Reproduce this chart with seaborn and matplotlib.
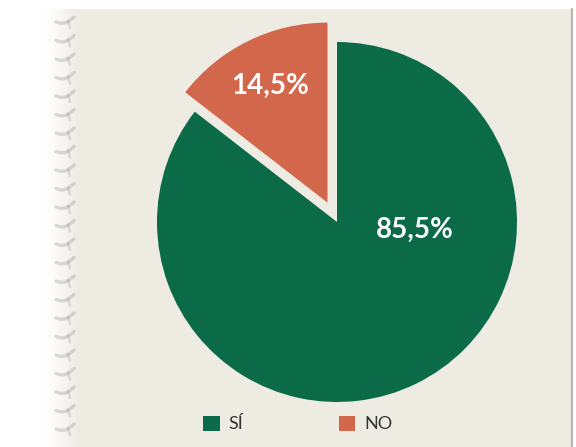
import numpy as np
import matplotlib
matplotlib.use("Agg")
import matplotlib.pyplot as plt
import seaborn as sns

# Survey answers and their shares (%)
labels = ["NO", "SÍ"]
shares = [14.5, 85.5]
legend_order = ["SÍ", "NO"]

sns.set_theme(style="white")
plt.rcParams["font.family"] = ["Lato", "DejaVu Sans"]

colors = {"SÍ": "#0b6a47", "NO": "#d2674c"}
paper = "#eeebe3"

W, H = 576, 447
fig = plt.figure(figsize=(W / 100, H / 100), dpi=100, facecolor="white")

# Paper background with a spiral-bound left edge
bg = fig.add_axes([0, 0, 1, 1], zorder=0)
bg.set_xlim(0, W)
bg.set_ylim(H, 0)
bg.axis("off")
bg.add_patch(plt.Rectangle((78, 9), 571 - 78, H - 9, facecolor=paper, edgecolor="none"))
# soft fade from the white torn edge into the paper
for i, x in enumerate(np.arange(44, 78, 1.0)):
    a = (i + 1) / 34
    bg.add_patch(plt.Rectangle((x, 9), 1.05, H - 9, facecolor=paper,
                               edgecolor="none", alpha=a ** 1.3))
bg.plot([572, 572], [9, H], color="#b9b7b2", lw=1.6)

# spiral binding marks
for y in np.arange(22, H, 18.5):
    t = np.linspace(0, 1, 14)
    bg.plot(56 + 18 * t, y + 3.5 * np.sin(np.pi * t) - 5 * t, color="#8f8d89", lw=2.4,
            alpha=0.3, solid_capstyle="round", zorder=2)
    bg.plot([68, 70], [y - 1, y + 6], color="#9a9894", lw=1.8, alpha=0.28, zorder=2)

# Pie chart: radius 1 maps to 180 px, centred at (337, 222) px from the top-left
ax = fig.add_axes([0, 0, 1, 1], zorder=1)
ax.patch.set_alpha(0)
R = 180.0
cx, cy = 337.0, 222.0


def fmt(p):
    return f"{p:.1f}".replace(".", ",") + "%"


wedges, texts, autotexts = ax.pie(
    shares,
    colors=[colors[l] for l in labels],
    explode=[0.12, 0.0],
    startangle=90,
    counterclock=True,
    autopct=fmt,
    pctdistance=0.72,
    wedgeprops=dict(linewidth=0),
    textprops=dict(color="white", fontsize=20, fontweight="bold"),
)
# Main share label sits to the right of the centre
autotexts[1].set_position((0.43, -0.045))

ax.set_xlim(-cx / R, (W - cx) / R)
ax.set_ylim(-(H - cy) / R, cy / R)
ax.set_aspect("equal", adjustable="box")
ax.axis("off")

handles = [wedges[labels.index(l)] for l in legend_order]
leg = fig.legend(
    handles, legend_order,
    loc="center", bbox_to_anchor=(298 / W, 1 - 424 / H),
    ncol=2, frameon=False, fontsize=13,
    handlelength=0.9, handleheight=0.9, handletextpad=0.5,
    columnspacing=5.3, labelcolor="#333333",
)

fig.savefig("out.png", dpi=100, facecolor="white")
